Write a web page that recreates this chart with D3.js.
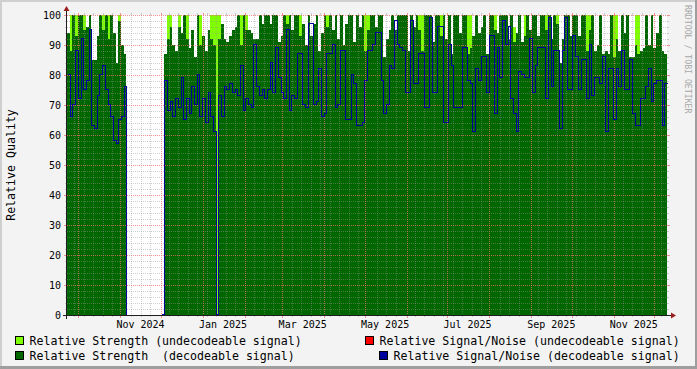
<!DOCTYPE html>
<html>
<head>
<meta charset="utf-8">
<script src="https://cdn.jsdelivr.net/npm/d3@7"></script>
<style>
  body { margin: 0; background: #f3f3f3; }
  svg { display: block; font-family: "DejaVu Sans Mono", monospace; }
</style>
</head>
<body>
<svg width="697" height="369"></svg>
<script>
// one sample every 2 days, starting here (UTC)
var startDate = new Date(Date.UTC(2024, 8, 22, 14));
var stepDays = 2;

// relative strength, decodeable signal (dark green area)
var strengthDecodeable = [
  94, 88, 100, 93, 100, 100, 95, 96, 100, 85,
  85, 93, 100, 95, 100, 92, 100, 94, 84, 98,
  90, 87, 0, null, null, null, null, null, null, null,
  null, null, null, null, null, 0, 87, 92, 96, 90,
  88, 96, 94, 100, 92, 89, 95, 86, 100, 90,
  93, 88, 95, 92, 90, 0, 92, 97, 92, 91,
  93, 95, 96, 100, 90, 100, 95, 95, 94, 92,
  92, 100, 97, 100, 100, 97, 100, 100, 91, 93,
  100, 97, 100, 95, 100, 100, 93, 97, 90, 100,
  93, 97, 100, 88, 94, 100, 96, 100, 95, 100,
  92, 100, 90, 97, 100, 100, 91, 100, 96, 100,
  88, 95, 100, 100, 96, 100, 100, 86, 92, 95,
  100, 95, 100, 100, 100, 100, 88, 100, 96, 100,
  95, 88, 100, 100, 100, 91, 100, 100, 93, 100,
  92, 100, 87, 100, 100, 94, 100, 100, 87, 89,
  93, 100, 94, 96, 100, 87, 100, 100, 95, 94,
  100, 100, 100, 92, 100, 91, 94, 100, 91, 93,
  100, 95, 100, 100, 93, 100, 100, 95, 100, 92,
  100, 97, 84, 92, 100, 100, 93, 100, 100, 93,
  100, 100, 88, 95, 100, 88, 90, 100, 87, 88,
  87, 100, 86, 92, 88, 100, 94, 100, 86, 86,
  90, 87, 88, 89, 100, 90, 100, 89, 94, 100,
  88, 87
];

// relative strength, undecodeable signal (light green area)
var strengthUndecodeable = [
  0, 100, 0, 100, 0, 0, 100, 0, 0, 0,
  0, 0, 0, 100, 0, 100, 0, 0, 0, 100,
  0, 0, 0, null, null, null, null, null, null, null,
  null, null, null, null, null, 0, 0, 100, 100, 0,
  0, 100, 0, 0, 100, 0, 0, 0, 0, 100,
  0, 0, 0, 100, 100, 100, 100, 0, 0, 0,
  0, 0, 0, 0, 100, 0, 100, 0, 0, 0,
  0, 0, 0, 0, 0, 0, 0, 0, 0, 0,
  100, 100, 0, 0, 0, 0, 100, 0, 0, 0,
  0, 0, 0, 0, 0, 100, 100, 0, 0, 0,
  0, 0, 0, 0, 0, 0, 0, 0, 0, 0,
  100, 100, 0, 0, 0, 0, 0, 0, 0, 0,
  0, 0, 0, 0, 0, 0, 0, 0, 0, 0,
  100, 100, 0, 0, 0, 0, 0, 0, 100, 0,
  0, 0, 0, 0, 0, 0, 0, 0, 100, 100,
  0, 0, 0, 0, 0, 0, 0, 0, 100, 0,
  0, 0, 0, 0, 0, 96, 0, 0, 0, 100,
  0, 0, 0, 0, 0, 0, 0, 100, 0, 0,
  0, 100, 0, 0, 0, 0, 0, 0, 0, 0,
  0, 0, 100, 100, 0, 0, 0, 0, 0, 0,
  0, 0, 100, 100, 0, 0, 0, 0, 0, 0,
  100, 100, 0, 0, 0, 0, 0, 0, 0, 0,
  0, 0
];

// relative signal/noise, decodeable signal (blue line)
var snrDecodeable = [
  80, 66, 70, 88, 72, 92, 75, 78, 95, 63,
  62, 73, 80, 83, 75, 70, 66, 58, 57, 65,
  66, 76, 0, null, null, null, null, null, null, null,
  null, null, null, null, null, 0, 78, 68, 71, 66,
  72, 69, 79, 65, 72, 67, 76, 70, 80, 66,
  72, 64, 74, 66, 61, 0, 73, 66, 76, 75,
  77, 74, 75, 73, 83, 68, 72, 70, 69, 90,
  76, 73, 75, 72, 75, 84, 74, 89, 79, 74,
  72, 95, 68, 73, 72, 87, 87, 70, 69, 97,
  97, 70, 71, 82, 66, 67, 87, 87, 90, 69,
  70, 88, 88, 65, 65, 80, 77, 63, 63, 64,
  78, 88, 88, 90, 94, 94, 78, 67, 70, 83,
  82, 98, 90, 89, 88, 74, 74, 98, 77, 77,
  87, 87, 69, 69, 99, 74, 74, 96, 96, 64,
  64, 90, 83, 69, 69, 69, 89, 89, 78, 77,
  61, 82, 78, 86, 86, 74, 93, 93, 67, 89,
  79, 98, 90, 96, 72, 67, 61, 81, 80, 79,
  79, 92, 74, 83, 89, 89, 89, 72, 99, 76,
  88, 88, 62, 88, 99, 75, 75, 93, 86, 75,
  85, 85, 72, 90, 73, 79, 79, 77, 86, 61,
  82, 82, 65, 82, 76, 88, 75, 75, 85, 67,
  63, 63, 72, 72, 76, 82, 71, 77, 78, 78,
  63, 77
];

var yTicks = [0, 10, 20, 30, 40, 50, 60, 70, 80, 90, 100];
var legendLeft = ["Relative Strength (undecodeable signal)", "Relative Strength  (decodeable signal)"];
var legendRight = ["Relative Signal/Noise (undecodeable signal)", "Relative Signal/Noise (decodeable signal)"];

var svg = d3.select("svg"),
    width = +svg.attr("width"),
    height = +svg.attr("height");

var x0 = 67, x1 = 667, yTop = 15, yBot = 315;

var n = strengthDecodeable.length;
var endDate = d3.utcDay.offset(startDate, n * stepDays);

var x = d3.scaleUtc().domain([startDate, endDate]).range([x0, x1]);
var y = d3.scaleLinear().domain([0, 100]).range([yBot, yTop]);

var rows = strengthDecodeable.map(function(v, i) {
    return {t: d3.utcDay.offset(startDate, i * stepDays), dk: v,
            lt: strengthUndecodeable[i], snr: snrDecodeable[i]};
});
// closing point so the last step gets its width
rows.push({t: endDate, dk: rows[n - 1].dk, lt: rows[n - 1].lt, snr: rows[n - 1].snr});

// frame
svg.append("rect").attr("width", width).attr("height", height).attr("fill", "#f3f3f3");
svg.append("rect").attr("x", 0).attr("y", 0).attr("width", width).attr("height", 2).attr("fill", "#cfcfcf");
svg.append("rect").attr("x", 0).attr("y", 0).attr("width", 2).attr("height", height).attr("fill", "#cfcfcf");
svg.append("rect").attr("x", 0).attr("y", height - 3).attr("width", width).attr("height", 3).attr("fill", "#9e9e9e");
svg.append("rect").attr("x", width - 2).attr("y", 0).attr("width", 2).attr("height", height).attr("fill", "#9e9e9e");

// canvas
svg.append("rect").attr("x", x0).attr("y", yTop).attr("width", x1 - x0).attr("height", yBot - yTop).attr("fill", "#ffffff");

var plot = svg.append("g").attr("shape-rendering", "crispEdges");

var areaLt = d3.area()
    .defined(function(d) { return d.lt != null; })
    .curve(d3.curveStepAfter)
    .x(function(d) { return x(d.t); })
    .y0(y(0))
    .y1(function(d) { return y(d.lt); });

var areaDk = d3.area()
    .defined(function(d) { return d.dk != null; })
    .curve(d3.curveStepAfter)
    .x(function(d) { return x(d.t); })
    .y0(y(0))
    .y1(function(d) { return y(d.dk); });

var lineSnr = d3.line()
    .defined(function(d) { return d.snr != null; })
    .curve(d3.curveStepAfter)
    .x(function(d) { return x(d.t); })
    .y(function(d) { return y(d.snr); });

plot.append("path").datum(rows).attr("d", areaLt).attr("fill", "#80ff00");
plot.append("path").datum(rows).attr("d", areaDk).attr("fill", "#006600");

// grid on top of the data, rrdtool style
var grid = svg.append("g").attr("shape-rendering", "crispEdges");
var minorCol = "rgba(150,150,150,0.45)", majorCol = "rgba(240,110,110,0.75)";

d3.range(0, 101, 2).forEach(function(v) {
    var major = v % 10 == 0;
    var yy = Math.round(y(v)) + 0.5;
    grid.append("line").attr("x1", x0).attr("x2", x1).attr("y1", yy).attr("y2", yy)
        .attr("stroke", major ? majorCol : minorCol).attr("stroke-dasharray", "1,1");
    grid.append("line").attr("x1", major ? x0 - 3 : x0 - 2).attr("x2", x0).attr("y1", yy).attr("y2", yy)
        .attr("stroke", major ? majorCol : minorCol);
    grid.append("line").attr("x1", x1).attr("x2", major ? x1 + 3 : x1 + 2).attr("y1", yy).attr("y2", yy)
        .attr("stroke", major ? majorCol : minorCol);
});

var months = d3.utcMonth.range(startDate, endDate);
var weeks = d3.utcSaturday.range(startDate, endDate).filter(function(d) {
    return months.reduce(function(m, mo) { return Math.min(m, Math.abs(x(mo) - x(d))); }, 99) > 3;
});

weeks.forEach(function(d) {
    var xx = Math.round(x(d)) + 0.5;
    grid.append("line").attr("x1", xx).attr("x2", xx).attr("y1", yTop).attr("y2", yBot)
        .attr("stroke", minorCol).attr("stroke-dasharray", "1,1");
    grid.append("line").attr("x1", xx).attr("x2", xx).attr("y1", yBot).attr("y2", yBot + 2).attr("stroke", minorCol);
    grid.append("line").attr("x1", xx).attr("x2", xx).attr("y1", yTop - 2).attr("y2", yTop).attr("stroke", minorCol);
});
months.forEach(function(d) {
    var xx = Math.round(x(d)) + 0.5;
    grid.append("line").attr("x1", xx).attr("x2", xx).attr("y1", yTop).attr("y2", yBot)
        .attr("stroke", majorCol).attr("stroke-dasharray", "1,1");
    grid.append("line").attr("x1", xx).attr("x2", xx).attr("y1", yBot).attr("y2", yBot + 3).attr("stroke", majorCol);
    grid.append("line").attr("x1", xx).attr("x2", xx).attr("y1", yTop - 2).attr("y2", yTop).attr("stroke", majorCol);
});

// blue line over the grid
svg.append("path").datum(rows).attr("d", lineSnr)
    .attr("fill", "none").attr("stroke", "#00009a").attr("stroke-width", 1)
    .attr("shape-rendering", "crispEdges")
    .attr("transform", "translate(0.5,-0.5)");

// axes
var axisCol = "#1f1f1f", arrowCol = "#9a1f1f";
svg.append("line").attr("x1", x0 - 4).attr("x2", x1 + 4).attr("y1", yBot + 0.5).attr("y2", yBot + 0.5)
    .attr("stroke", axisCol).attr("shape-rendering", "crispEdges");
svg.append("line").attr("x1", x0 - 0.5).attr("x2", x0 - 0.5).attr("y1", yBot + 4).attr("y2", yTop - 4)
    .attr("stroke", axisCol).attr("shape-rendering", "crispEdges");
svg.append("path").attr("d", "M" + (x1 + 4) + "," + (yBot - 2.5) + "L" + (x1 + 4) + "," + (yBot + 3.5) + "L" + (x1 + 9) + "," + (yBot + 0.5) + "Z")
    .attr("fill", arrowCol);
svg.append("path").attr("d", "M" + (x0 - 3.5) + "," + (yTop - 4) + "L" + (x0 + 2.5) + "," + (yTop - 4) + "L" + (x0 - 0.5) + "," + (yTop - 9) + "Z")
    .attr("fill", arrowCol);

// y labels
svg.selectAll(".ylab").data(yTicks).enter().append("text")
    .attr("class", "ylab")
    .attr("x", 61).attr("y", function(d) { return y(d) + 3.5; })
    .attr("text-anchor", "end").attr("font-size", "10px").attr("fill", "#000")
    .text(function(d) { return d; });

// x labels, centred in the month
var labelMonths = d3.utcMonth.every(2).range(startDate, endDate);
svg.selectAll(".xlab").data(labelMonths).enter().append("text")
    .attr("class", "xlab")
    .attr("x", function(d) { return x(d3.utcDay.offset(d, 15)); })
    .attr("y", 328)
    .attr("text-anchor", "middle").attr("font-size", "10px").attr("fill", "#000")
    .text(d3.utcFormat("%b %Y"));

// y title
svg.append("text")
    .attr("transform", "translate(14.5," + ((yTop + yBot) / 2) + ") rotate(-90)")
    .attr("text-anchor", "middle").attr("font-size", "11.6px").attr("fill", "#000")
    .text("Relative Quality");

// watermark
svg.append("text")
    .attr("transform", "translate(685,5) rotate(90)")
    .attr("font-size", "8.2px").attr("fill", "#a8a8a8")
    .text("RRDTOOL / TOBI OETIKER");

// legend
var legendRowsY = [336, 351];
var leftCols = ["#80ff00", "#006600"], rightCols = ["#ff0000", "#00009a"];
var rightBoxX = [365, 379];

var leg = svg.append("g");
legendLeft.forEach(function(s, i) {
    leg.append("rect").attr("x", 15.5).attr("y", legendRowsY[i] + 0.5).attr("width", 8).attr("height", 8)
        .attr("fill", leftCols[i]).attr("stroke", "#000").attr("shape-rendering", "crispEdges");
    leg.append("text").attr("x", 29.5).attr("y", legendRowsY[i] + 8.5).attr("font-size", "11.6px")
        .attr("fill", "#000").style("white-space", "pre").text(s);
});
legendRight.forEach(function(s, i) {
    leg.append("rect").attr("x", rightBoxX[i] + 0.5).attr("y", legendRowsY[i] + 0.5).attr("width", 8).attr("height", 8)
        .attr("fill", rightCols[i]).attr("stroke", "#000").attr("shape-rendering", "crispEdges");
    leg.append("text").attr("x", rightBoxX[i] + 14.5).attr("y", legendRowsY[i] + 8.5).attr("font-size", "11.6px")
        .attr("fill", "#000").style("white-space", "pre").text(s);
});
</script>
</body>
</html>
